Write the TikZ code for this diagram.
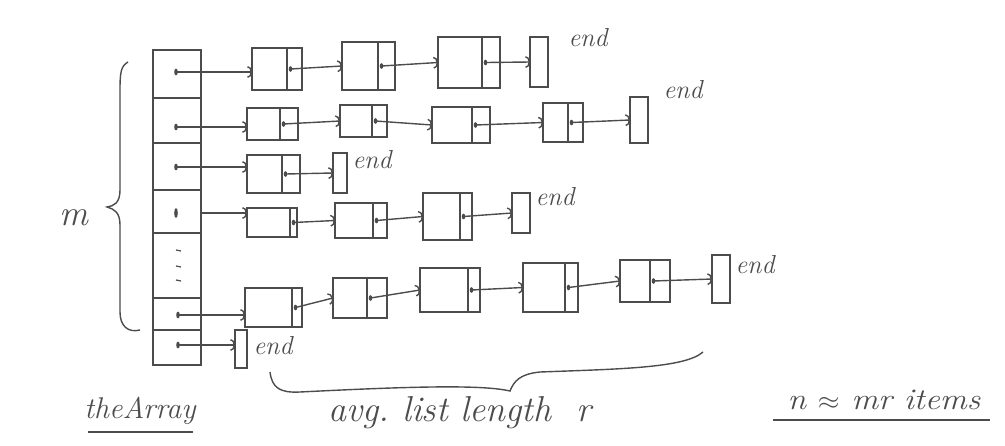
\documentclass[tikz,border=0pt]{standalone}
\usepackage{graphicx}
\usetikzlibrary{arrows.meta}
\definecolor{ink}{HTML}{4C4C4C}
\tikzset{
  inkline/.style={draw=ink, line width=1.5pt},
  part/.style={inkline, rectangle, inner sep=0pt, outer sep=0pt, anchor=north west},
  arr/.style={draw=ink, line width=1.4pt, -{Arc Barb[length=4.5pt,width=12pt]}},
  hand/.style={text=ink, font=\itshape\fontsize{26}{30}\selectfont, inner sep=0pt},
  big/.style={hand, font=\itshape\fontsize{30}{34}\selectfont},
}
% list node: name, x-left, x-divider, x-right, y-top, y-bottom
\newcommand\lnode[6]{%
  \node[part, minimum width={(#3-#2)*1pt}, minimum height={(#6-#5)*1pt}] (#1) at (#2,#5) {};
  \node[part, minimum width={(#4-#3)*1pt}, minimum height={(#6-#5)*1pt}] (#1p) at (#3,#5) {};
  \coordinate (#1d) at ([xshift=3.5pt]#1p.west);
  \fill[ink] (#1d) ellipse (1.8pt and 2.8pt);
}
% end box: name, x-left, x-right, y-top, y-bottom, label x, label y
\newcommand\lendbox[7]{%
  \node[part, minimum width={(#3-#2)*1pt}, minimum height={(#5-#4)*1pt}] (#1) at (#2,#4) {};
  \node[hand] (#1l) at (#6,#7) {end};
}
\begin{document}
\begin{tikzpicture}[x=1pt, y=-1pt]
\useasboundingbox (0,0) rectangle (1005,445);

% the array
\node[part, minimum width=48pt, minimum height=48pt] (A1) at (153,50) {};
\node[part, minimum width=48pt, minimum height=45pt] (A2) at (153,98) {};
\node[part, minimum width=48pt, minimum height=47pt] (A3) at (153,143) {};
\node[part, minimum width=48pt, minimum height=43pt] (A4) at (153,190) {};
\node[part, minimum width=48pt, minimum height=65pt] (A5) at (153,233) {};
\node[part, minimum width=48pt, minimum height=32pt] (A6) at (153,298) {};
\node[part, minimum width=48pt, minimum height=35pt] (A7) at (153,330) {};

\coordinate (a1d) at (176,72);
\coordinate (a2d) at (176,127);
\coordinate (a3d) at (176,167);
\coordinate (a4d) at (176,213);
\coordinate (a6d) at (178,315);
\coordinate (a7d) at (178,345);
\foreach \p in {a1d,a2d,a3d,a6d,a7d} \fill[ink] (\p) ellipse (1.8pt and 3.4pt);
\fill[ink] (a4d) ellipse (1.8pt and 5pt);
\foreach \yy in {250,266,280} \draw[inkline, line width=1.2pt] (176,\yy) -- (181,\yy+1);

% row 1
\lnode{r1a}{252}{287}{302}{48}{90}
\lnode{r1b}{342}{378}{395}{42}{90}
\lnode{r1c}{438}{482}{500}{37}{88}
\lendbox{r1e}{530}{548}{37}{87}{588}{38}
\draw[arr] (a1d) -- (r1a.west |- a1d);
\draw[arr] (r1ad) -- (r1b.west);
\draw[arr] (r1bd) -- (r1c.west);
\draw[arr] (r1cd) -- (r1e.west);

% row 2
\lnode{r2a}{247}{280}{298}{108}{140}
\lnode{r2b}{340}{372}{387}{105}{137}
\lnode{r2c}{432}{472}{490}{107}{143}
\lnode{r2d}{543}{568}{583}{103}{142}
\lendbox{r2e}{630}{648}{97}{143}{683}{90}
\draw[arr] (a2d) -- (r2a.west |- a2d);
\draw[arr] (r2ad) -- (r2b.west);
\draw[arr] (r2bd) -- (r2c.west);
\draw[arr] (r2cd) -- (r2d.west);
\draw[arr] (r2dd) -- (r2e.west);

% row 3
\lnode{r3a}{247}{282}{300}{155}{193}
\lendbox{r3e}{333}{347}{153}{193}{372}{160}
\draw[arr] (a3d) -- (r3a.west |- a3d);
\draw[arr] (r3ad) -- (r3e.west);

% row 4
\lnode{r4a}{247}{290}{297}{208}{237}
\lnode{r4b}{335}{373}{387}{203}{238}
\lnode{r4c}{423}{460}{472}{193}{240}
\lendbox{r4e}{512}{530}{193}{233}{555}{197}
\draw[arr] (A4.east |- a4d) -- (r4a.west |- a4d);
\draw[arr] (r4ad) -- (r4b.west);
\draw[arr] (r4bd) -- (r4c.west);
\draw[arr] (r4cd) -- (r4e.west);

% row 6
\lnode{r6a}{245}{292}{302}{288}{327}
\lnode{r6b}{333}{367}{387}{278}{318}
\lnode{r6c}{420}{468}{480}{268}{312}
\lnode{r6d}{523}{565}{578}{263}{312}
\lnode{r6f}{620}{650}{670}{260}{302}
\lendbox{r6e}{712}{730}{255}{303}{755}{265}
\draw[arr] (a6d) -- (r6a.west |- a6d);
\draw[arr] (r6ad) -- (r6b.west);
\draw[arr] (r6bd) -- (r6c.west);
\draw[arr] (r6cd) -- (r6d.west);
\draw[arr] (r6dd) -- (r6f.west);
\draw[arr] (r6fd) -- (r6e.west);

% row 7
\lendbox{r7e}{235}{247}{330}{368}{273}{346}
\draw[arr] (a7d) -- (r7e.west |- a7d);

% left brace and m
\draw[inkline, line width=1.4pt] (128,62) .. controls (121,66) and (120,72) .. (120,90) -- (120,190)
  .. controls (120,203) and (114,206) .. (107,207) .. controls (114,209) and (120,212) .. (120,225)
  -- (120,312) .. controls (120,326) and (128,333) .. (140,330);
\node[big, font=\itshape\fontsize{36}{40}\selectfont] (mlab) at (74,218) {m};

% bottom brace
\draw[inkline, line width=1.4pt] (270,372) .. controls (272,388) and (280,393) .. (300,392)
  .. controls (400,387) and (480,384) .. (510,391)
  .. controls (514,381) and (520,374) .. (540,372)
  .. controls (620,369) and (685,368) .. (703,352);

% labels
\node[big, font=\itshape\fontsize{30}{34}\selectfont] (arr) at (140,411) {theArray};
\draw[inkline, line width=1.4pt] (88,432) -- (193,432);
\node[big, font=\itshape\fontsize{36}{40}\selectfont] (avg) at (460,413) {avg.\ list length \ r};
\node[big] (nmr) at (884,400) {\scalebox{1.12}[1]{n $\approx$ mr items}};
\draw[inkline, line width=1.4pt] (773,420) -- (990,420);
\end{tikzpicture}
\end{document}
